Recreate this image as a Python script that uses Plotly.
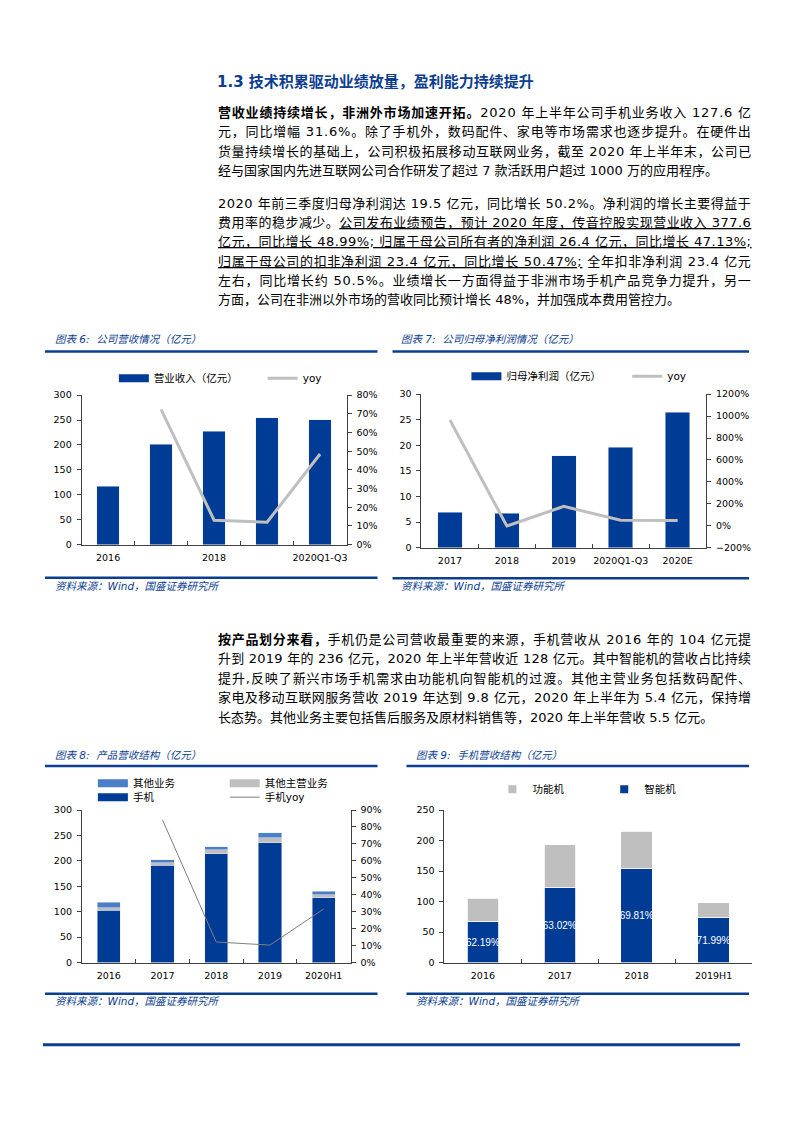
import re
import plotly.graph_objects as go

W, H = 793, 1122
BLUE = "#003C96"
LBLUE = "#4A7EC6"
GRAY = "#BFBFBF"
DGRAY = "#7F7F7F"
TBLUE = "#0B3D91"
AXC = "#404040"
BODY_FONT = "DejaVu Sans, Noto Sans CJK SC"
TICK_FONT = "DejaVu Sans, Noto Sans CJK SC"
LABEL_FONT = "Liberation Sans, Arial, sans-serif"

# ---------------- data ----------------
c6_cats = ["2016", "2017", "2018", "2019", "2020Q1-Q3"]
c6_rev = [117.5, 201.5, 228, 254.5, 251]
c6_yoy = [None, 72.4, 13.1, 12.0, 48.5]

c7_cats = ["2017", "2018", "2019", "2020Q1-Q3", "2020E"]
c7_np = [6.9, 6.7, 18.0, 19.6, 26.5]
c7_yoy = [965, -3, 176, 50, 47]

c8_cats = ["2016", "2017", "2018", "2019", "2020H1"]
c8_phone = [103, 191, 214, 236, 127.6]
c8_othermain = [4.5, 5.2, 7.5, 9.8, 5.4]
c8_other = [11, 6, 6.5, 10, 6.8]
c8_phone_yoy = [None, 84.2, 12.1, 10.3, 31.6]

c9_cats = ["2016", "2017", "2018", "2019H1"]
c9_smart = [67, 123, 154, 73]
c9_feature = [38, 70, 61, 25]
c9_labels = ["62.19%", "63.02%", "69.81%", "71.99%"]


def px(x):
    return x / W


def py(y):
    return 1 - y / H


fig = go.Figure()

# ---------------- chart 6 ----------------
fig.add_trace(go.Bar(x=c6_cats, y=c6_rev, marker_color=BLUE, width=0.43,
                     showlegend=False, xaxis="x", yaxis="y"))
fig.add_trace(go.Scatter(x=c6_cats, y=c6_yoy, mode="lines", name="yoy",
                         line=dict(color=GRAY, width=3), xaxis="x", yaxis="y2",
                         legend="legend2"))
fig.add_trace(go.Scatter(x=[None], y=[None], mode="lines", name="营业收入（亿元）",
                         line=dict(color=BLUE, width=8), xaxis="x", yaxis="y",
                         legend="legend"))

# ---------------- chart 7 ----------------
fig.add_trace(go.Bar(x=c7_cats, y=c7_np, marker_color=BLUE, width=0.43,
                     showlegend=False, xaxis="x3", yaxis="y3"))
fig.add_trace(go.Scatter(x=c7_cats, y=c7_yoy, mode="lines", name="yoy",
                         line=dict(color=GRAY, width=3), xaxis="x3", yaxis="y4",
                         legend="legend4"))
fig.add_trace(go.Scatter(x=[None], y=[None], mode="lines", name="归母净利润（亿元）",
                         line=dict(color=BLUE, width=8), xaxis="x3", yaxis="y3",
                         legend="legend3"))

# ---------------- chart 8 ----------------
fig.add_trace(go.Bar(x=c8_cats, y=c8_phone, marker_color=BLUE, width=0.43,
                     showlegend=False, xaxis="x5", yaxis="y5"))
fig.add_trace(go.Bar(x=c8_cats, y=c8_othermain, marker_color=GRAY, width=0.43,
                     showlegend=False, xaxis="x5", yaxis="y5"))
fig.add_trace(go.Bar(x=c8_cats, y=c8_other, marker_color=LBLUE, width=0.43,
                     showlegend=False, xaxis="x5", yaxis="y5"))
fig.add_trace(go.Scatter(x=c8_cats, y=c8_phone_yoy, mode="lines", name="手机yoy",
                         line=dict(color=DGRAY, width=1), xaxis="x5", yaxis="y6",
                         legend="legend8"))
fig.add_trace(go.Scatter(x=[None], y=[None], mode="lines", name="其他业务",
                         line=dict(color=LBLUE, width=8), xaxis="x5", yaxis="y5",
                         legend="legend5"))
fig.add_trace(go.Scatter(x=[None], y=[None], mode="lines", name="其他主营业务",
                         line=dict(color=GRAY, width=8), xaxis="x5", yaxis="y5",
                         legend="legend6"))
fig.add_trace(go.Scatter(x=[None], y=[None], mode="lines", name="手机",
                         line=dict(color=BLUE, width=8), xaxis="x5", yaxis="y5",
                         legend="legend7"))

# ---------------- chart 9 ----------------
fig.add_trace(go.Bar(x=c9_cats, y=c9_smart, marker_color=BLUE, width=0.41,
                     marker_line=dict(color="white", width=0.8),
                     text=c9_labels, textposition="inside", insidetextanchor="middle",
                     textangle=0, constraintext="none",
                     textfont=dict(color="white", size=10, family=LABEL_FONT),
                     showlegend=False, xaxis="x7", yaxis="y7"))
fig.add_trace(go.Bar(x=c9_cats, y=c9_feature, marker_color=GRAY, width=0.41,
                     marker_line=dict(color="white", width=0.8),
                     showlegend=False, xaxis="x7", yaxis="y7"))
fig.add_trace(go.Scatter(x=[None], y=[None], mode="markers", name="功能机",
                         marker=dict(color=GRAY, size=8, symbol="square"),
                         xaxis="x7", yaxis="y7", legend="legend9"))
fig.add_trace(go.Scatter(x=[None], y=[None], mode="markers", name="智能机",
                         marker=dict(color=BLUE, size=8, symbol="square"),
                         xaxis="x7", yaxis="y7", legend="legend10"))

# ---------------- axes ----------------
tickfont = dict(family=TICK_FONT, size=9.5, color="#000")


def xax(x0, x1, yanchor, ticktext=None, cats=None):
    d = dict(domain=[px(x0), px(x1)], anchor=yanchor, type="category",
             showline=True, linecolor=AXC, linewidth=1, showgrid=False,
             ticks="inside", tickson="boundaries", ticklen=4, tickcolor=AXC,
             tickfont=tickfont, tickangle=0, ticklabelstandoff=4,
             zeroline=False, fixedrange=True)
    if ticktext is not None:
        d.update(tickmode="array", tickvals=cats, ticktext=ticktext)
    return d


def yax(y0, y1, xanchor, rng, dtick, side="left", overlay=None, suffix=""):
    d = dict(range=rng, dtick=dtick, side=side, anchor=xanchor,
             showline=True, linecolor=AXC, linewidth=1, showgrid=False,
             ticks="outside", ticklen=4, tickcolor=AXC, tickfont=tickfont,
             ticksuffix=suffix, ticklabelstandoff=3, zeroline=False, fixedrange=True)
    if overlay:
        d["overlaying"] = overlay
    else:
        d["domain"] = [py(y0), py(y1)]
    return d


c6_ticktext = [c if i % 2 == 0 else "" for i, c in enumerate(c6_cats)]

layout_axes = dict(
    xaxis=xax(81.7, 347, "y", ticktext=c6_ticktext, cats=c6_cats),
    yaxis=yax(544, 393, "x", [0, 300], 50),
    yaxis2=yax(None, None, "x", [0, 80], 10, side="right", overlay="y", suffix="%"),
    xaxis3=xax(422, 707, "y3"),
    yaxis3=yax(547, 392, "x3", [0, 30], 5),
    yaxis4=yax(None, None, "x3", [-200, 1200], 200, side="right", overlay="y3", suffix="%"),
    xaxis5=xax(82, 351, "y5"),
    yaxis5=yax(966, 812, "x5", [0, 300], 50),
    yaxis6=yax(None, None, "x5", [0, 90], 10, side="right", overlay="y5", suffix="%"),
    xaxis7=xax(445, 753, "y7"),
    yaxis7=yax(966, 812, "x7", [0, 250], 50),
)


def leg(xp, ypix):
    return dict(x=px(xp), y=py(ypix), xanchor="left", yanchor="middle",
                orientation="h", bgcolor="rgba(0,0,0,0)", borderwidth=0,
                itemwidth=30, font=dict(family=BODY_FONT, size=10.5, color="#000"))


legends = dict(
    legend=leg(114, 376), legend2=leg(263, 376),
    legend3=leg(467, 374), legend4=leg(628, 374),
    legend5=leg(93, 785), legend6=leg(225, 785),
    legend7=leg(93, 799), legend8=leg(225, 799),
    legend9=leg(493, 791), legend10=leg(605, 791),
)

# ---------------- texts ----------------
annotations = []

ASCII_W = {" ": 0.318, ".": 0.318, ",": 0.318, ";": 0.337, "%": 0.950, ":": 0.337}


def est_width(s, size):
    plain = re.sub(r"<[^>]+>", "", s)
    tot = 0.0
    for ch in plain:
        if ch.isdigit():
            tot += 0.636
        elif ch in ASCII_W:
            tot += ASCII_W[ch]
        elif ord(ch) < 128:
            tot += 0.6
        else:
            tot += 1.0
    return tot * size, len(plain)


def txt(x, y, s, size=13, color="#000", family=BODY_FONT, justify=None):
    if justify:
        w, n = est_width(s, size)
        ls = max(0.0, (justify - w) / max(n - 1, 1))
        s = '<span style="letter-spacing:%.2fpx">%s</span>' % (ls, s)
    annotations.append(dict(x=px(x), y=py(y), xref="paper", yref="paper",
                            text=s, showarrow=False, xanchor="left", yanchor="middle",
                            font=dict(size=size, color=color, family=family)))


txt(215, 77, "<b>1.3 技术积累驱动业绩放量，盈利能力持续提升</b>", size=15, color=TBLUE)

para1 = [
    "<b>营收业绩持续增长，非洲外市场加速开拓。</b>2020 年上半年公司手机业务收入 127.6 亿",
    "元，同比增幅 31.6%。除了手机外，数码配件、家电等市场需求也逐步提升。在硬件出",
    "货量持续增长的基础上，公司积极拓展移动互联网业务，截至 2020 年上半年末，公司已",
    "经与国家国内先进互联网公司合作研发了超过 7 款活跃用户超过 1000 万的应用程序。",
]
para2 = [
    "2020 年前三季度归母净利润达 19.5 亿元，同比增长 50.2%。净利润的增长主要得益于",
    "费用率的稳步减少。<u>公司发布业绩预告，预计 2020 年度，传音控股实现营业收入 377.6</u>",
    "<u>亿元，同比增长 48.99%; 归属于母公司所有者的净利润 26.4 亿元，同比增长 47.13%;</u>",
    "<u>归属于母公司的扣非净利润 23.4 亿元，同比增长 50.47%;</u> 全年扣非净利润 23.4 亿元",
    "左右，同比增长约 50.5%。业绩增长一方面得益于非洲市场手机产品竞争力提升，另一",
    "方面，公司在非洲以外市场的营收同比预计增长 48%，并加强成本费用管控力。",
]
para3 = [
    "<b>按产品划分来看，</b>手机仍是公司营收最重要的来源，手机营收从 2016 年的 104 亿元提",
    "升到 2019 年的 236 亿元，2020 年上半年营收近 128 亿元。其中智能机的营收占比持续",
    "提升,反映了新兴市场手机需求由功能机向智能机的过渡。其他主营业务包括数码配件、",
    "家电及移动互联网服务营收 2019 年达到 9.8 亿元，2020 年上半年为 5.4 亿元，保持增",
    "长态势。其他业务主要包括售后服务及原材料销售等，2020 年上半年营收 5.5 亿元。",
]

JW = 533
for para, y0, dy in ((para1, 107.5, 19.6), (para2, 199.5, 19.4), (para3, 639.5, 19.7)):
    for i, s in enumerate(para):
        txt(216, y0 + i * dy, s, justify=JW if i < len(para) - 1 else None)

cap = dict(size=10.5, color=TBLUE, family=BODY_FONT)
txt(53, 336, "<i>图表 6:  公司营收情况（亿元）</i>", **cap)
txt(400, 336, "<i>图表 7:  公司归母净利润情况（亿元）</i>", **cap)
txt(53, 756, "<i>图表 8:  产品营收结构（亿元）</i>", **cap)
txt(415, 756, "<i>图表 9:  手机营收结构（亿元）</i>", **cap)
src = "<i>资料来源：Wind，国盛证券研究所</i>"
txt(53, 586, src, **cap)
txt(400, 586, src, **cap)
txt(53, 1005, src, **cap)
txt(415, 1005, src, **cap)

# ---------------- rules ----------------
shapes = []


def hline(x0, x1, y, w=2.5):
    shapes.append(dict(type="line", xref="paper", yref="paper",
                       x0=px(x0), x1=px(x1), y0=py(y), y1=py(y),
                       line=dict(color=TBLUE, width=w)))


hline(45, 378, 349)
hline(393, 750, 349)
hline(45, 378, 577.5)
hline(393, 750, 578)
hline(45, 378, 767.5)
hline(407, 750, 767.5)
hline(45, 378, 997.5)
hline(407, 750, 997.5)
hline(43, 741, 1049, w=3)

fig.update_layout(
    width=W, height=H, margin=dict(l=0, r=0, t=0, b=0),
    paper_bgcolor="white", plot_bgcolor="rgba(0,0,0,0)",
    barmode="stack", bargap=0.5,
    annotations=annotations, shapes=shapes,
    font=dict(family=BODY_FONT, color="#000"),
    **layout_axes, **legends,
)

POST = (
    "var d=document.documentElement,b=document.body;"
    "d.style.margin='0';d.style.padding='0';d.style.overflow='hidden';d.style.height='1122px';"
    "b.style.margin='0';b.style.padding='0';b.style.overflow='hidden';b.style.height='1122px';"
    "var g=document.getElementById('{plot_id}');"
    "g.style.position='fixed';g.style.left='0';g.style.top='0';"
)

fig.write_html("out.html", config={"displayModeBar": False}, post_script=POST)
